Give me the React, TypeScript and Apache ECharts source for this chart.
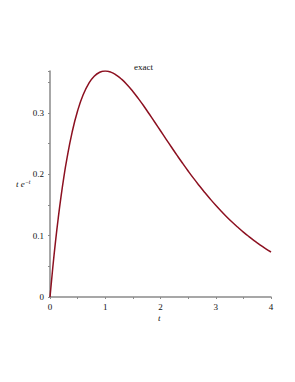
import React, { useEffect, useRef } from "react";
import * as echarts from "echarts";

const tValues = [0, 0.05, 0.1, 0.15, 0.2, 0.25, 0.3, 0.4, 0.5, 0.6, 0.7, 0.8, 0.9, 1.0, 1.1, 1.2, 1.3, 1.4, 1.5, 1.6, 1.7, 1.8, 1.9, 2.0, 2.1, 2.2, 2.3, 2.4, 2.5, 2.6, 2.7, 2.8, 2.9, 3.0, 3.1, 3.2, 3.3, 3.4, 3.5, 3.6, 3.7, 3.8, 3.9, 4.0];
const yValues = [0, 0.0476, 0.0905, 0.1291, 0.1637, 0.1947, 0.2222, 0.2681, 0.3033, 0.3293, 0.3476, 0.3595, 0.3659, 0.3679, 0.3662, 0.3614, 0.3543, 0.3452, 0.3347, 0.323, 0.3106, 0.2975, 0.2842, 0.2707, 0.2572, 0.2438, 0.2306, 0.2177, 0.2052, 0.1931, 0.1815, 0.1703, 0.1596, 0.1494, 0.1397, 0.1304, 0.1217, 0.1135, 0.1057, 0.0984, 0.0915, 0.085, 0.0789, 0.0733];
const titleText = "exact";
const xLabel = "t";

export default function App() {
  const ref = useRef<HTMLDivElement>(null);
  useEffect(() => {
    if (!ref.current) return;
    const chart = echarts.init(ref.current, undefined, { renderer: "svg" });
    const font = "'Liberation Serif', 'DejaVu Serif', serif";
    const axisColor = "#8a8a8a";
    chart.setOption({
      animation: false,
      grid: { left: 50, right: 24, top: 71, bottom: 85 },
      xAxis: {
        type: "value",
        min: 0,
        max: 4,
        interval: 1,
        axisLine: { show: true, lineStyle: { color: axisColor, width: 1.5 } },
        axisTick: { show: true, length: 2, inside: false, lineStyle: { color: axisColor } },
        minorTick: { show: true, splitNumber: 2, length: 2, lineStyle: { color: axisColor } },
        splitLine: { show: false },
        axisLabel: { color: "#111", fontFamily: font, fontSize: 9, margin: 5 },
      },
      yAxis: {
        type: "value",
        min: 0,
        max: 0.368,
        interval: 0.1,
        axisLine: { show: true, lineStyle: { color: axisColor, width: 1.5 } },
        axisTick: { show: true, length: 2, lineStyle: { color: axisColor } },
        minorTick: { show: true, splitNumber: 2, length: 2, lineStyle: { color: axisColor } },
        splitLine: { show: false },
        axisLabel: {
          color: "#111",
          fontFamily: font,
          fontSize: 9,
          margin: 6,
          showMaxLabel: false,
          formatter: (v: number) => (v === 0 ? "0" : String(Math.round(v * 10) / 10)),
        },
      },
      series: [
        {
          type: "line",
          data: tValues.map((t, i) => [t, yValues[i]]),
          smooth: true,
          showSymbol: false,
          lineStyle: { color: "#8c1020", width: 1.5 },
        },
      ],
      graphic: [
        {
          type: "text",
          left: 134,
          top: 62,
          style: { text: titleText, font: `9px ${font}`, fill: "#111" },
        },
        {
          type: "text",
          left: 158,
          top: 313,
          style: { text: xLabel, font: `italic 9px ${font}`, fill: "#111" },
        },
        {
          type: "text",
          left: 16,
          top: 179,
          style: {
            text: "{i|t e}{s|−t}",
            rich: {
              i: { font: `italic 9px ${font}`, fill: "#111" },
              s: { font: `italic 6px ${font}`, fill: "#111", verticalAlign: "top", padding: [0, 0, 4, 0] },
            },
          },
        },
      ],
    });
    return () => chart.dispose();
  }, []);
  return <div ref={ref} style={{ position: "absolute", left: 0, top: 0, width: 295, height: 382 }} />;
}
